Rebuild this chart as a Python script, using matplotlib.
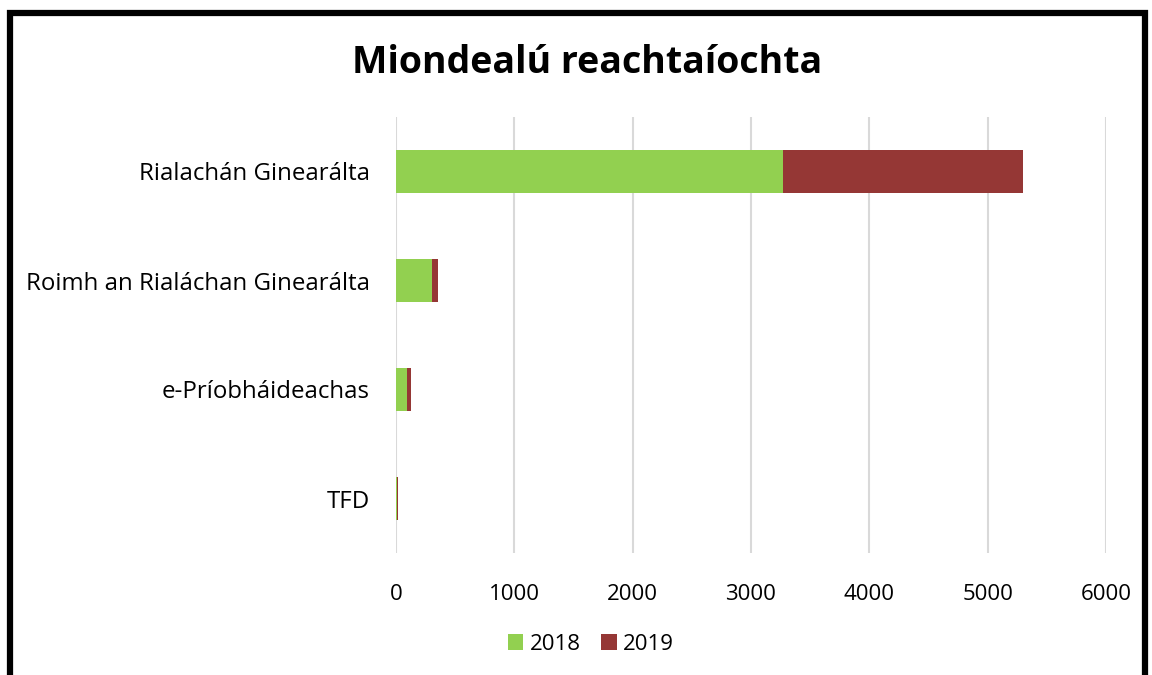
import matplotlib
matplotlib.use("Agg")
from matplotlib import pyplot as plt
from matplotlib.patches import Rectangle

plt.rcParams['font.family'] = ['Open Sans', 'DejaVu Sans']

categories = ["Rialachán Ginearálta", "Roimh an Rialáchan Ginearálta",
              "e-Príobháideachas", "TFD"]
vals_2018 = [3270, 305, 90, 8]
vals_2019 = [2030, 52, 37, 6]
series_names = ["2018", "2019"]
colors = ["#92D050", "#953735"]
xticks = [0, 1000, 2000, 3000, 4000, 5000, 6000]

fig = plt.figure(figsize=(11.52, 6.75), dpi=100)
ax = fig.add_axes([396 / 1152, 122 / 675, 710 / 1152, 436 / 675])

ypos = list(range(len(categories)))[::-1]
ax.barh(ypos, vals_2018, height=0.4, color=colors[0], label=series_names[0], zorder=3)
ax.barh(ypos, vals_2019, height=0.4, left=vals_2018, color=colors[1],
        label=series_names[1], zorder=3)

ax.set_xlim(0, 6000)
ax.set_ylim(-0.5, len(categories) - 0.5)
ax.set_xticks(xticks)
ax.set_xticklabels([str(t) for t in xticks])
ax.set_yticks(ypos)
ax.set_yticklabels(categories)
ax.tick_params(axis='both', length=0, colors='#000000')
ax.tick_params(axis='x', pad=22, labelsize=16)
ax.tick_params(axis='y', pad=19, labelsize=17.3)
ax.grid(axis='x', color='#d9d9d9', linewidth=1.5, zorder=0)
for s in ax.spines.values():
    s.set_visible(False)

fig.text(0.5095, 1 - 63 / 675, "Miondealú reachtaíochta", ha='center', va='center',
         fontsize=27, fontweight='bold')

leg = fig.legend(loc='center', bbox_to_anchor=(591 / 1152, 1 - 644 / 675), ncol=2,
                 frameon=False, fontsize=16, handlelength=0.7, handleheight=0.7,
                 handletextpad=0.3, columnspacing=0.9)

# outer chart frame (bottom is cut off in the reference)
fig.patches.append(Rectangle((10 / 1152, -0.1), 1135 / 1152, 1.1 - 13 / 675,
                             transform=fig.transFigure, fill=False,
                             edgecolor='black', linewidth=4.5))

fig.savefig("out.png", dpi=100)
